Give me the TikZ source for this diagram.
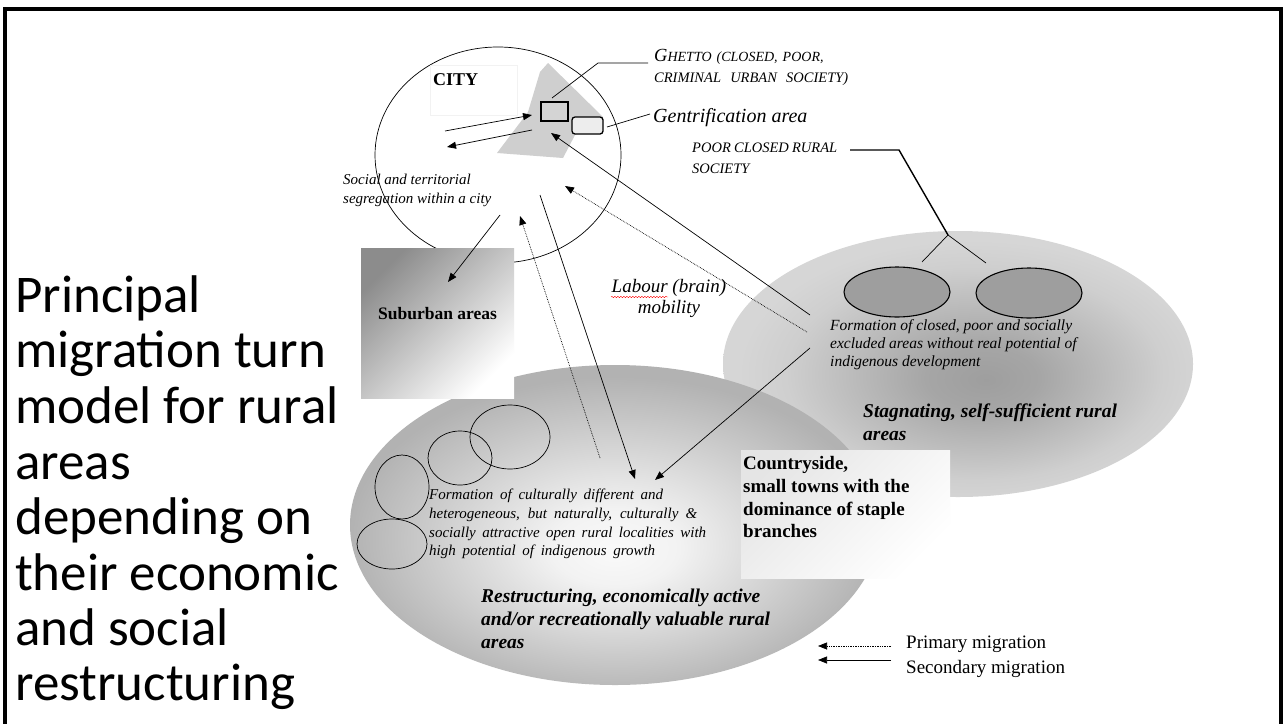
\documentclass[tikz,border=0pt]{standalone}
\usepackage{fontspec}
\setmainfont{Liberation Serif}
\newfontfamily\titlefont{Carlito}
\usetikzlibrary{arrows.meta,decorations.pathmorphing}
\pgfdeclareradialshading{stagshade}{\pgfpoint{3bp}{-3bp}}{color(0bp)=(black!38); color(6bp)=(black!35); color(20bp)=(black!19); color(25bp)=(black!16); color(50bp)=(black!16)}
\pgfdeclareradialshading{restshade}{\pgfpoint{0bp}{-4bp}}{color(0bp)=(black!2); color(6bp)=(black!5); color(25bp)=(black!30); color(50bp)=(black!30)}
\begin{document}
\begin{tikzpicture}[x=1pt,y=-1pt,
  title/.style={font={\titlefont\fontsize{53pt}{55pt}\selectfont}, inner sep=0pt, anchor=base west},
  txt/.style={inner sep=0pt, anchor=base west},
  arr/.style={-{Triangle[length=9pt,width=7pt]}, line width=0.7pt},
  darr/.style={arr, densely dotted},
  leader/.style={line width=0.7pt},
  thickleader/.style={line width=1.4pt}]
\useasboundingbox (0,0) rectangle (1284,723);
\fill[white] (0,0) rectangle (1284,723);

% frame
\draw[line width=3.5pt] (5,725) -- (5,9) -- (1281,9) -- (1281,725);

% title
\node[title] (t1) at (15,312) {Principal};
\node[title] (t2) at (15,367) {migration turn};
\node[title] (t3) at (15,423) {model for rural};
\node[title] (t4) at (15,479) {areas};
\node[title] (t5) at (15,534) {depending on};
\node[title] (t6) at (15,590) {their economic};
\node[title] (t7) at (15,645) {and social};
\node[title] (t8) at (15,700) {restructuring};

% big areas
\shade[shading=stagshade] (958,364) ellipse [x radius=235pt, y radius=133pt];
\shade[shading=restshade] (615,525) ellipse [x radius=265pt, y radius=160pt];
\shade[top color=black!10, bottom color=white, shading angle=45] (741,450) rectangle (950,578);

% small circles in restructuring area
\draw[line width=0.7pt] (510,437) ellipse [x radius=40pt, y radius=32pt];
\draw[line width=0.7pt] (460,458) ellipse [x radius=32pt, y radius=27pt];
\draw[line width=0.7pt] (402,487) ellipse [x radius=27pt, y radius=32pt];
\draw[line width=0.7pt] (392,544) ellipse [x radius=35pt, y radius=25pt];

% ovals in stagnating area
\draw[line width=1.1pt, fill=black!38] (897,292) ellipse [x radius=53pt, y radius=25pt];
\draw[line width=1.1pt, fill=black!38] (1029,293) ellipse [x radius=53pt, y radius=25pt];

% city
\draw[line width=0.7pt] (498,155) ellipse [x radius=123pt, y radius=108pt];
\fill[black!19] (548,63) -- (603,117) -- (575,135) -- (563,158) -- (497,153) -- (528,112) -- (540,72) -- cycle;
\draw[black!5] (430,65) rectangle (517,115);
\draw[line width=1.3pt, fill=black!17] (541,102) rectangle (568,121);
\draw[line width=1.3pt, fill=black!7, rounded corners=3pt] (572,117) rectangle (603,134);

% suburban
\shade[top color=black!45, bottom color=white, shading angle=45] (361,248) rectangle (514,398);

% coordinates
\coordinate (c1a) at (445,131); \coordinate (c1b) at (532,115);
\coordinate (c2a) at (532,130); \coordinate (c2b) at (447,147);
\coordinate (s1) at (500,215); \coordinate (s2) at (448,282);
\coordinate (d1) at (540,195); \coordinate (d2) at (635,479);
\coordinate (u1) at (600,458); \coordinate (u2) at (520,216);
\coordinate (g1) at (810,315); \coordinate (g2) at (551,133);
\coordinate (p1) at (807,332); \coordinate (p2) at (565,186);
\coordinate (r1) at (810,348); \coordinate (r2) at (655,480);

\draw[arr] (c1a) -- (c1b);
\draw[arr] (c2a) -- (c2b);
\draw[arr] (s1) -- (s2);
\draw[arr] (d1) -- (d2);
\draw[darr] (u1) -- (u2);
\draw[arr] (g1) -- (g2);
\draw[darr] (p1) -- (p2);
\draw[arr] (r1) -- (r2);

% leaders
\coordinate (lg1) at (552,98); \coordinate (lg2) at (598,63); \coordinate (lg3) at (648,63);
\draw[leader] (lg1) -- (lg2) -- (lg3);
\coordinate (lt1) at (607,127); \coordinate (lt2) at (650,114);
\draw[leader] (lt1) -- (lt2);
\coordinate (lp1) at (850,150); \coordinate (lp2) at (899,150); \coordinate (lp3) at (948,235);
\coordinate (lp4) at (922,262); \coordinate (lp5) at (986,263);
\draw[thickleader] (lp1) -- (lp2) -- (lp3);
\draw[leader] (lp4) -- (lp3) -- (lp5);

% texts
\node[txt, font={\bfseries\fontsize{18pt}{20pt}\selectfont}] (city) at (433,85) {CITY};
\node[txt, font={\itshape\fontsize{14pt}{14pt}\selectfont}] (gh1) at (654,61) {{\fontsize{18.5pt}{18pt}\selectfont G}\makebox[156pt][s]{HETTO (CLOSED, POOR,}};
\node[txt, font={\itshape\fontsize{14.5pt}{14pt}\selectfont}] (gh2) at (654,82) {\makebox[194pt][s]{CRIMINAL URBAN SOCIETY)}};
\node[txt, font={\itshape\fontsize{20pt}{22pt}\selectfont}] (gent) at (653,122) {Gentrification area};
\node[txt, font={\itshape\fontsize{14.5pt}{16pt}\selectfont}] (pc1) at (692,152) {\makebox[145pt][s]{POOR CLOSED RURAL}};
\node[txt, font={\itshape\fontsize{14.5pt}{16pt}\selectfont}] (pc2) at (692,173) {SOCIETY};
\node[txt, font={\itshape\fontsize{15pt}{17pt}\selectfont}] (seg1) at (343,184) {Social and territorial};
\node[txt, font={\itshape\fontsize{15pt}{17pt}\selectfont}] (seg2) at (343,203) {segregation within a city};
\node[txt, font={\bfseries\fontsize{17.5pt}{20pt}\selectfont}] (sub) at (378,319) {Suburban areas};
\node[inner sep=0pt, anchor=base, font={\itshape\fontsize{19pt}{21pt}\selectfont}] (lab1) at (669,292) {Labour (brain)};
\node[inner sep=0pt, anchor=base, font={\itshape\fontsize{19pt}{21pt}\selectfont}] (lab2) at (669,313) {mobility};
\draw[red, line width=0.4pt, decorate, decoration={snake, amplitude=0.7pt, segment length=3pt}] (611,297) -- (668,297);

\node[txt, font={\itshape\fontsize{15.5pt}{17pt}\selectfont}] (fc1) at (830,330) {Formation of closed, poor and socially};
\node[txt, font={\itshape\fontsize{15.5pt}{17pt}\selectfont}] (fc2) at (830,348) {excluded areas without real potential of};
\node[txt, font={\itshape\fontsize{15.5pt}{17pt}\selectfont}] (fc3) at (830,366) {indigenous development};
\node[txt, font={\bfseries\itshape\fontsize{19.5pt}{22pt}\selectfont}] (st1) at (863,417) {Stagnating, self-sufficient rural};
\node[txt, font={\bfseries\itshape\fontsize{19.5pt}{22pt}\selectfont}] (st2) at (863,440) {areas};

\node[txt, font={\bfseries\fontsize{19pt}{22pt}\selectfont}] (cs1) at (743,469) {Countryside,};
\node[txt, font={\bfseries\fontsize{19pt}{22pt}\selectfont}] (cs2) at (743,492) {small towns with the};
\node[txt, font={\bfseries\fontsize{19pt}{22pt}\selectfont}] (cs3) at (743,515) {dominance of staple};
\node[txt, font={\bfseries\fontsize{19pt}{22pt}\selectfont}] (cs4) at (743,537) {branches};

\node[txt, font={\itshape\fontsize{15pt}{17pt}\selectfont}] (fu1) at (429,499) {\makebox[234pt][s]{Formation of culturally different and}};
\node[txt, font={\itshape\fontsize{15pt}{17pt}\selectfont}] (fu2) at (429,518) {\makebox[268pt][s]{heterogeneous, but naturally, culturally \&}};
\node[txt, font={\itshape\fontsize{15pt}{17pt}\selectfont}] (fu3) at (429,537) {\makebox[277pt][s]{socially attractive open rural localities with}};
\node[txt, font={\itshape\fontsize{15pt}{17pt}\selectfont}] (fu4) at (429,555) {\makebox[226pt][s]{high potential of indigenous growth}};

\node[txt, font={\bfseries\itshape\fontsize{19.5pt}{22pt}\selectfont}] (re1) at (481,602) {Restructuring, economically active};
\node[txt, font={\bfseries\itshape\fontsize{19.5pt}{22pt}\selectfont}] (re2) at (481,625) {and/or recreationally valuable rural};
\node[txt, font={\bfseries\itshape\fontsize{19.5pt}{22pt}\selectfont}] (re3) at (481,648) {areas};

% legend
\coordinate (la1) at (891,646); \coordinate (la2) at (818,646);
\coordinate (lb1) at (891,660); \coordinate (lb2) at (818,660);
\draw[darr] (la1) -- (la2);
\draw[arr] (lb1) -- (lb2);
\node[txt, font={\fontsize{19pt}{21pt}\selectfont}] (lg1t) at (906,648) {Primary migration};
\node[txt, font={\fontsize{19pt}{21pt}\selectfont}] (lg2t) at (906,673) {Secondary migration};
\end{tikzpicture}
\end{document}
